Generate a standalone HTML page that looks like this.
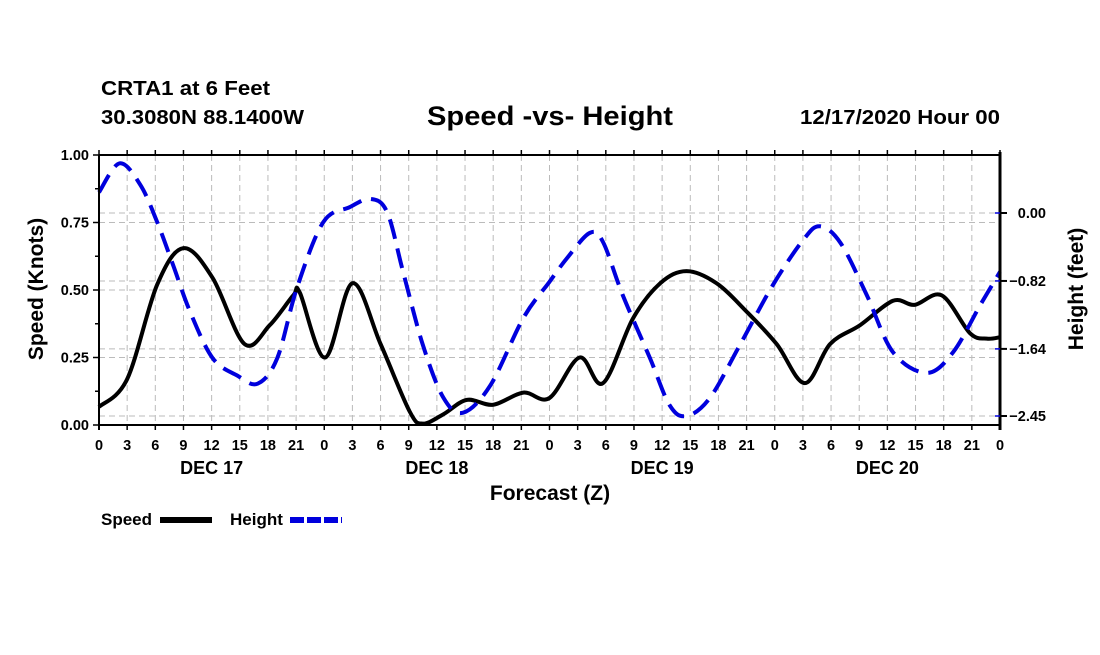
<!DOCTYPE html>
<html><head><meta charset="utf-8"><style>
body{margin:0;background:#fff;}
svg text{font-family:"Liberation Sans",Arial,sans-serif;font-weight:bold;fill:#000;}
</style></head><body>
<svg id="chart" width="1100" height="650" xmlns="http://www.w3.org/2000/svg">
<text x="101" y="95" font-size="20" textLength="169" lengthAdjust="spacingAndGlyphs">CRTA1 at 6 Feet</text>
<text x="101" y="124" font-size="20" textLength="203" lengthAdjust="spacingAndGlyphs">30.3080N 88.1400W</text>
<text x="427" y="125" font-size="27" textLength="246" lengthAdjust="spacingAndGlyphs">Speed -vs- Height</text>
<text x="800" y="124" font-size="20" textLength="200" lengthAdjust="spacingAndGlyphs">12/17/2020 Hour 00</text>
<g id="grid"></g>
<g id="series"></g>
<g id="axes"></g>
<text transform="translate(43,289) rotate(-90)" font-size="21" text-anchor="middle">Speed (Knots)</text>
<text transform="translate(1083,289) rotate(-90)" font-size="21" text-anchor="middle">Height (feet)</text>
<text x="550" y="500" font-size="21" text-anchor="middle">Forecast (Z)</text>
<g>
<text x="101" y="525" font-size="17">Speed</text>
<line x1="160" y1="520" x2="212" y2="520" stroke="#000" stroke-width="6"/>
</g>
<g>
<text x="230" y="525" font-size="17">Height</text>
<line x1="290" y1="520" x2="342" y2="520" stroke="#0000dd" stroke-width="6" stroke-dasharray="14 3"/>
</g>
</svg>
<script>
const speedHours=[0,3,6.2,9,12.1,15.5,18.2,20.7,21.4,24.1,27,30,33.1,34.5,36.7,39.2,42,45.2,48,51.2,53.7,56.9,59.8,62.6,65.8,69,72.2,75.2,77.9,81.1,84.6,86.9,89.8,92.8,94.6,96];
const speedValues=[0.067,0.17,0.52,0.655,0.545,0.30,0.37,0.48,0.49,0.25,0.525,0.30,0.05,0.005,0.04,0.093,0.075,0.12,0.10,0.25,0.155,0.395,0.525,0.57,0.525,0.42,0.30,0.155,0.30,0.37,0.46,0.445,0.48,0.34,0.32,0.325];
const heightHours=[0,2.2,4.4,6.2,7.9,9.7,12.1,14.7,16.9,19,21.1,23.9,26.7,28.9,30.7,32.4,34.5,36.7,38.8,41.7,45.2,48,49.9,52.3,53.7,55.8,58.7,60.8,62.6,65.1,68.3,71.8,75,76.8,79,81.8,84.6,88.2,91,93.9,96];
const heightValues=[0.25,0.60,0.34,-0.11,-0.63,-1.19,-1.75,-1.96,-2.06,-1.75,-0.90,-0.11,0.07,0.17,0.01,-0.71,-1.59,-2.23,-2.41,-2.08,-1.27,-0.83,-0.54,-0.24,-0.35,-0.99,-1.75,-2.32,-2.45,-2.23,-1.59,-0.87,-0.33,-0.16,-0.36,-0.99,-1.68,-1.93,-1.68,-1.11,-0.71];
const speedTicks=[0,0.25,0.5,0.75,1.0];
const speedTickLabels=["0.00","0.25","0.50","0.75","1.00"];
const heightTicks=[0,-0.82,-1.64,-2.45];
const heightTickLabels=["0.00","\u22120.82","\u22121.64","\u22122.45"];
const hourLabels=["0","3","6","9","12","15","18","21"];
const dayLabels=["DEC 17","DEC 18","DEC 19","DEC 20"];

const L=99,R=1000,T=155,B=425;
const xS=h=>L+h*(R-L)/96;
const yS=v=>B-v*(B-T);
const yH=v=>213-v*82.86;
const NS="http://www.w3.org/2000/svg";
function mk(tag,attrs,parent){const e=document.createElementNS(NS,tag);for(const k in attrs)e.setAttribute(k,attrs[k]);parent.appendChild(e);return e;}
const grid=document.getElementById('grid'),axes=document.getElementById('axes'),series=document.getElementById('series');
for(let h=3;h<96;h+=3){const l=mk('line',{x1:xS(h),x2:xS(h),y1:T,y2:B,stroke:'#bbb','stroke-width':1,'stroke-dasharray':'6 4'},grid);

}
speedTicks.slice(1,4).forEach(v=>{const l=mk('line',{x1:L,x2:R,y1:yS(v),y2:yS(v),stroke:'#bbb','stroke-width':1,'stroke-dasharray':'6 4'},grid);

});
heightTicks.forEach(v=>{const l=mk('line',{x1:L,x2:R,y1:yH(v),y2:yH(v),stroke:'#bbb','stroke-width':1,'stroke-dasharray':'6 4'},grid);

});
function path(xs,ys,fx,fy){const p=xs.map((x,i)=>[fx(x),fy(ys[i])]);let d=`M${p[0][0]},${p[0][1]}`;
for(let i=0;i<p.length-1;i++){const p0=p[Math.max(0,i-1)],p1=p[i],p2=p[i+1],p3=p[Math.min(p.length-1,i+2)];
const c1=[p1[0]+(p2[0]-p0[0])/6,p1[1]+(p2[1]-p0[1])/6],c2=[p2[0]-(p3[0]-p1[0])/6,p2[1]-(p3[1]-p1[1])/6];
d+=`C${c1[0]},${c1[1]} ${c2[0]},${c2[1]} ${p2[0]},${p2[1]}`;}return d;}
const sp=mk('path',{d:path(speedHours,speedValues,xS,yS),fill:'none',stroke:'#000','stroke-width':4,'stroke-linejoin':'round'},series);


const hp=mk('path',{d:path(heightHours,heightValues,xS,yH),fill:'none',stroke:'#0000dd','stroke-width':4,'stroke-dasharray':'20 10'},series);


mk('line',{x1:L,x2:L,y1:T,y2:B+5,stroke:'#000','stroke-width':2},axes);
mk('line',{x1:L,x2:R,y1:B,y2:B,stroke:'#000','stroke-width':2},axes);
mk('line',{x1:L,x2:R,y1:T,y2:T,stroke:'#000','stroke-width':2},axes);
mk('line',{x1:R,x2:R,y1:T-3,y2:B+5,stroke:'#000','stroke-width':3},axes);
for(let v=0;v<=1.0001;v+=0.125){mk('line',{x1:L-(Math.abs(v*4-Math.round(v*4))<0.01?6:4),x2:L,y1:yS(v),y2:yS(v),stroke:'#000','stroke-width':1.5},axes);}
speedTicks.forEach((v,i)=>{const t=mk('text',{x:L-10,y:yS(v)+5,'font-size':14.5,'text-anchor':'end'},axes);t.textContent=speedTickLabels[i];

});
heightTicks.forEach((v,i)=>{mk('line',{x1:R,x2:R+7,y1:yH(v),y2:yH(v),stroke:'#000','stroke-width':2},axes);
mk('line',{x1:R-5,x2:R,y1:yH(v),y2:yH(v),stroke:'#0000dd','stroke-width':1.5},axes);
const t=mk('text',{x:1046,y:yH(v)+5,'font-size':14.5,'text-anchor':'end'},axes);t.textContent=heightTickLabels[i];

});
for(let h=0;h<=96;h+=3){mk('line',{x1:xS(h),x2:xS(h),y1:B,y2:B+5,stroke:'#000','stroke-width':1.5},axes);
mk('line',{x1:xS(h),x2:xS(h),y1:T-5,y2:T,stroke:'#000','stroke-width':1.5},axes);
const t=mk('text',{x:xS(h),y:450,'font-size':14.5,'text-anchor':'middle'},axes);t.textContent=hourLabels[(h/3)%8];

}
dayLabels.forEach((d,i)=>{const t=mk('text',{x:xS(i*24+12),y:474,'font-size':18,'text-anchor':'middle'},axes);t.textContent=d;

});
</script>
</body></html>
